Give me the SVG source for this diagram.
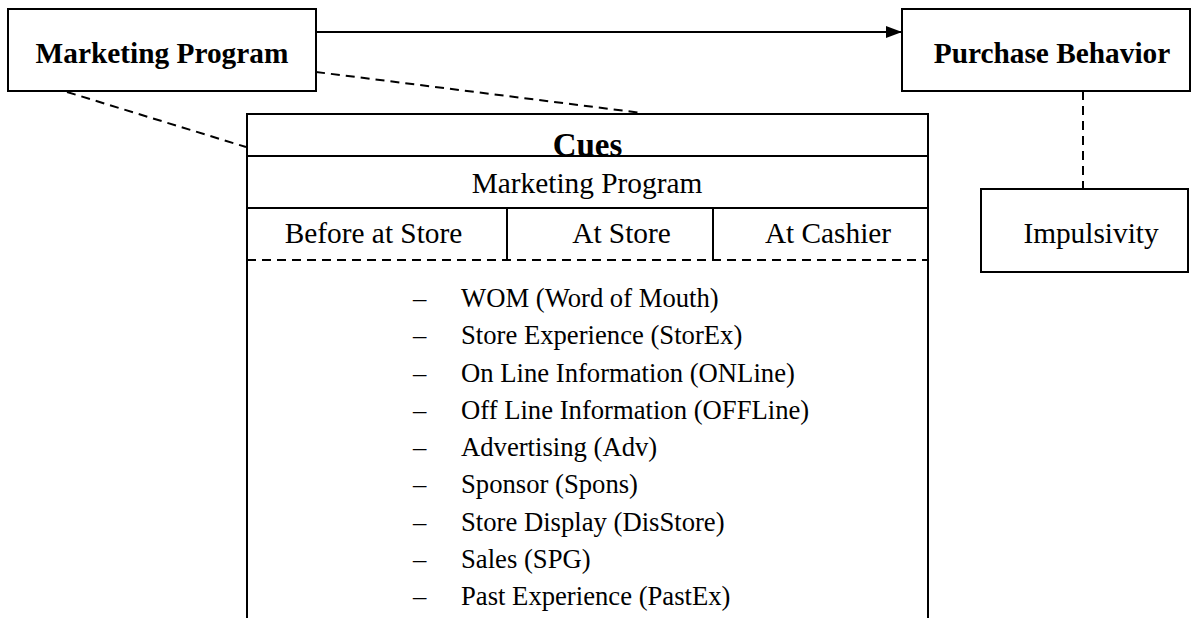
<svg xmlns="http://www.w3.org/2000/svg" width="1197" height="618" viewBox="0 0 1197 618">
<style>
.box{fill:#fff;stroke:#000;stroke-width:2}
.ln{stroke:#000;stroke-width:2;fill:none}
.dash{stroke:#000;stroke-width:2;fill:none;stroke-dasharray:9 6}
.t{font-family:"Liberation Serif","Times New Roman",serif;font-size:29.33px;fill:#000}
.b{font-weight:bold}
.c{text-anchor:middle}
.li{font-family:"Liberation Serif","Times New Roman",serif;font-size:26.67px;fill:#000}
</style>
<defs>
<marker id="arr" viewBox="0 0 10 10" refX="10" refY="5" markerWidth="8" markerHeight="8" markerUnits="userSpaceOnUse" orient="auto">
<path d="M0,0 L10,5 L0,10 Z" fill="#000"/>
</marker>
<marker id="arrow" viewBox="0 0 16 12" refX="16" refY="6" markerWidth="16" markerHeight="12" markerUnits="userSpaceOnUse" orient="auto">
<path d="M0,0 L16,6 L0,12 Z" fill="#000"/>
</marker>
</defs>
<rect width="1197" height="618" fill="#fff"/>
<g id="connectors">
<line class="ln" x1="316" y1="32" x2="902" y2="32" marker-end="url(#arrow)"/>
<line class="dash" x1="316" y1="72" x2="642" y2="113"/>
<line class="dash" x1="67" y1="92" x2="246" y2="147"/>
<line class="dash" x1="1083" y1="91" x2="1083" y2="189"/>
</g>
<g id="marketing-program">
<rect class="box" x="8" y="9" width="308" height="82"/>
<text class="t b c" x="162" y="63">Marketing Program</text>
</g>
<g id="purchase-behavior">
<rect class="box" x="902" y="9" width="288" height="82"/>
<text class="t b c" x="1052" y="63">Purchase Behavior</text>
</g>
<g id="impulsivity">
<rect class="box" x="981" y="189" width="207" height="83"/>
<text class="t c" x="1091" y="243">Impulsivity</text>
</g>
<g id="cues">
<path class="ln" d="M247,618 V114 H928 V618"/>
<line class="ln" x1="247" y1="156" x2="928" y2="156"/>
<line class="ln" x1="247" y1="208" x2="928" y2="208"/>
<line class="dash" x1="247" y1="260" x2="928" y2="260"/>
<line class="ln" x1="507" y1="208" x2="507" y2="261"/>
<line class="ln" x1="713" y1="208" x2="713" y2="261"/>
<text class="t b c" x="587.5" y="156" style="font-size:33px">Cues</text>
<text class="t c" x="587" y="193">Marketing Program</text>
<text class="t c" x="373.5" y="243">Before at Store</text>
<text class="t c" x="621.5" y="243">At Store</text>
<text class="t c" x="828" y="243">At Cashier</text>
<g class="li">
<text x="413" y="307">–</text><text x="461" y="307">WOM (Word of Mouth)</text>
<text x="413" y="344.25">–</text><text x="461" y="344.25">Store Experience (StorEx)</text>
<text x="413" y="381.5">–</text><text x="461" y="381.5">On Line Information (ONLine)</text>
<text x="413" y="418.75">–</text><text x="461" y="418.75">Off Line Information (OFFLine)</text>
<text x="413" y="456">–</text><text x="461" y="456">Advertising (Adv)</text>
<text x="413" y="493.25">–</text><text x="461" y="493.25">Sponsor (Spons)</text>
<text x="413" y="530.5">–</text><text x="461" y="530.5">Store Display (DisStore)</text>
<text x="413" y="567.75">–</text><text x="461" y="567.75">Sales (SPG)</text>
<text x="413" y="605">–</text><text x="461" y="605">Past Experience (PastEx)</text>
</g>
</g>
</svg>
